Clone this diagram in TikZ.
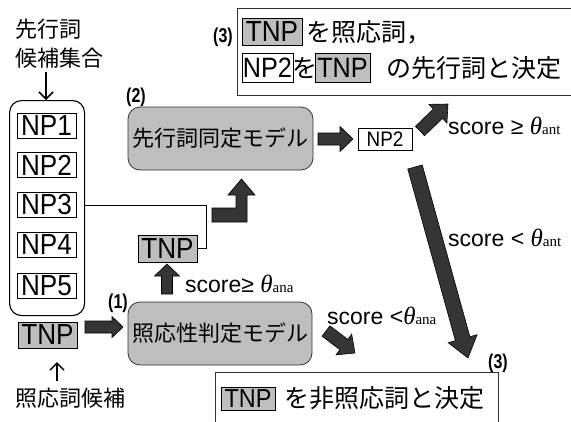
\documentclass[tikz,border=0pt]{standalone}
\usepackage{fontspec}
\setmainfont{Liberation Sans}
\newfontfamily\jp{Noto Sans CJK JP}
\newfontfamily\serifit{Liberation Serif}
\newfontfamily\condb[FakeStretch=0.8]{Liberation Sans}
\newfontfamily\narrow[FakeStretch=0.9]{Liberation Sans}
\usetikzlibrary{arrows.meta,calc}
\definecolor{boxgray}{HTML}{BEBEBE}
\definecolor{arrgray}{HTML}{353535}
\newcommand\fatarrow[5]{%
  \path let \p1=(#1), \p2=(#2) in \pgfextra{%
    \pgfmathsetmacro\faAng{atan2(\y2-\y1,\x2-\x1)}%
    \pgfmathsetmacro\faLen{veclen(\x2-\x1,\y2-\y1)}%
    \global\let\faAngG\faAng \global\let\faLenG\faLen};
  \begin{scope}[shift={(#1)},rotate=\faAngG]
    \draw[fatarr] (0pt,{-0.5*#3pt}) -- ({\faLenG pt-#5pt},{-0.5*#3pt}) -- ({\faLenG pt-#5pt},{-0.5*#4pt})
      -- ({\faLenG pt},0pt) -- ({\faLenG pt-#5pt},{0.5*#4pt}) -- ({\faLenG pt-#5pt},{0.5*#3pt}) -- (0pt,{0.5*#3pt}) -- cycle;
  \end{scope}}
\newcommand\thetalbl[1]{{\serifit\itshape\fontsize{25}{25}\selectfont θ}{\serifit\fontsize{15}{15}\selectfont #1}}
\begin{document}
\begin{tikzpicture}[x=1pt,y=-1pt,
  npbox/.style={draw=black, line width=0.9pt, inner sep=0pt, font=\narrow\fontsize{29}{29}\selectfont, minimum width=59pt, minimum height=25pt},
  tnpbox/.style={npbox, fill=boxgray},
  model/.style={draw=black!80, fill=boxgray, rounded corners=12pt, minimum width=184pt, minimum height=63pt, font=\jp\fontsize{22}{22}\selectfont, inner sep=0pt, line width=0.8pt},
  jptext/.style={font=\jp\fontsize{22}{26}\selectfont, inner sep=0pt, anchor=west},
  bigjp/.style={font=\jp\fontsize{25}{25}\selectfont, inner sep=0pt, anchor=west},
  lbl/.style={font=\fontsize{23}{23}\selectfont, inner sep=0pt, anchor=west},
  num/.style={font=\condb\bfseries\fontsize{20}{20}\selectfont, inner sep=0pt},
  fatarr/.style={draw=black, line width=0.6pt, fill=arrgray, line join=miter},
  thinarr/.style={draw=black, line width=1.5pt, -{Straight Barb[length=7pt,width=14pt]}},
  frame/.style={draw=black!80, line width=0.9pt, inner sep=0pt, anchor=north west}
]
\useasboundingbox (0,0) rectangle (571,421);
% candidate set
\node[jptext] (candA) at (15,29) {先行詞};
\node[jptext] (candB) at (15,58) {候補集合};
\coordinate (dA) at (46,72);
\node[draw, line width=1.1pt, rounded corners=12pt, minimum width=75pt, minimum height=215pt, inner sep=0pt, anchor=north west] (cont) at (9,100) {};
\draw[thinarr] (dA) -- (cont.north -| dA);
\node[npbox] (np1) at (46.5,125.5) {NP1};
\node[npbox] (np2) at (46.5,165) {NP2};
\node[npbox] (np3) at (46.5,205) {NP3};
\node[npbox] (np4) at (46.5,245) {NP4};
\node[npbox] (np5) at (46.5,285.5) {NP5};
\node[tnpbox, minimum height=26pt] (tnpL) at (47.5,335) {TNP};
\node[jptext] (anacand) at (15,398) {照応詞候補};
\coordinate (uA) at (57,381);
\draw[thinarr] (uA) -- ++(0,-19);
% models
\node[model] (ana) at (220,333.5) {照応性判定モデル};
\node[model, minimum width=185pt] (ant) at (220.5,138.5) {先行詞同定モデル};
\node[num] (n1) at (118,303) {(1)};
\node[num] (n2) at (136,97) {(2)};
% small TNP
\node[tnpbox, minimum height=27pt] (tnpS) at (167.5,248.5) {TNP};
\draw[line width=0.7pt] (np3 -| cont.east) -- (206,205) |- (tnpS.east);
% NP2 result
\node[draw=black, line width=0.9pt, inner sep=0pt, minimum width=54pt, minimum height=22pt, font=\narrow\fontsize{21}{21}\selectfont] (npr) at (385,139) {NP2};
% labels
\node[lbl] (l1) at (185,284) {score≥ \thetalbl{ana}};
\node[lbl] (l2) at (327,316) {score <\thetalbl{ana}};
\node[lbl] (l3) at (448,126) {score ≥ \thetalbl{ant}};
\node[lbl] (l4) at (448,238) {score < \thetalbl{ant}};
% top result box
\node[frame, minimum width=345pt, minimum height=87pt] (topbox) at (237,8) {};
\node[num] (n3a) at (223,37) {(3)};
\node[tnpbox, minimum width=60pt, minimum height=27pt] (t1) at (272,31.5) {TNP};
\node[bigjp] (t1txt) at (306,32) {を照応詞，};
\node[npbox, minimum width=51pt, minimum height=29pt, font=\narrow\fontsize{28}{28}\selectfont] (t2) at (267.5,67.5) {NP2};
\node[bigjp, anchor=center] (t2wo) at (304.5,68) {を};
\node[tnpbox, minimum width=55pt, minimum height=29pt, font=\narrow\fontsize{28}{28}\selectfont] (t3) at (342.5,67.5) {TNP};
\node[bigjp] (t3txt) at (386,68) {の先行詞と決定};
% bottom result box
\node[frame, minimum width=283pt, minimum height=70pt] (botbox) at (215,372) {};
\node[num] (n3b) at (498,363) {(3)};
\node[tnpbox, minimum width=54pt, minimum height=23pt, font=\narrow\fontsize{26}{26}\selectfont] (b1) at (248,399) {TNP};
\node[bigjp] (b1txt) at (284,398) {を非照応詞と決定};
% fat arrows
\coordinate (a1s) at (85,327);  \coordinate (a1e) at (123,327);
\coordinate (a2s) at (167,294); \coordinate (a2e) at (167,264);
\coordinate (a4s) at (318,139); \coordinate (a4e) at (353,139);
\coordinate (a5s) at (420,131); \coordinate (a5e) at (448,104);
\coordinate (a6s) at (415,167); \coordinate (a6e) at (468,358);
\coordinate (a7s) at (326,331); \coordinate (a7e) at (355,353);
\fatarrow{a1s}{a1e}{12}{21}{11}
\fatarrow{a2s}{a2e}{11}{25}{12}
\fatarrow{a4s}{a4e}{12}{25}{13}
\fatarrow{a5s}{a5e}{13}{26}{14}
\fatarrow{a6s}{a6e}{15}{30}{20}
\fatarrow{a7s}{a7e}{13}{26}{14}
\draw[fatarr] (212,208) -- (236,208) -- (236,195) -- (228,195) -- (241.5,179) -- (255,195) -- (247,195) -- (247,222) -- (212,222) -- cycle;
\end{tikzpicture}
\end{document}
